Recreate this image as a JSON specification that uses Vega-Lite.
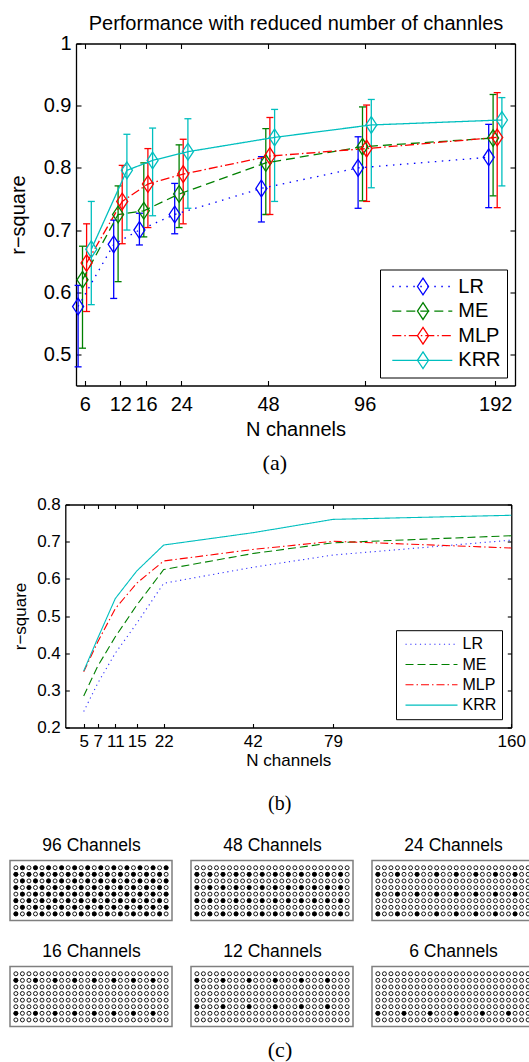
{
"$schema": "https://vega.github.io/schema/vega-lite/v6.json",
"padding": {"left": 8, "top": 12.5, "right": 0, "bottom": 0},
"background": "white",
"spacing": 21,
"config": {
  "font": "Liberation Sans",
  "view": {"stroke": null},
  "axis": {"grid": false, "domainColor": "black", "domainWidth": 1.3, "tickColor": "black", "tickWidth": 1.1, "labelColor": "black", "titleColor": "black", "labelFont": "Liberation Sans", "titleFont": "Liberation Sans", "titleFontWeight": "normal", "labelOverlap": false, "labelFlush": false, "labelBound": false},
  "title": {"font": "Liberation Sans", "fontWeight": "normal", "color": "black"},
  "legend": {"labelFont": "Liberation Sans", "labelColor": "black"}
},
"resolve": {"scale": {"color": "independent", "strokeDash": "independent", "shape": "independent", "stroke": "independent"}, "legend": {"color": "independent", "strokeDash": "independent", "shape": "independent", "stroke": "independent"}},
"datasets": {
  "grid": [
{"r":0,"c":0},{"r":0,"c":1},{"r":0,"c":2},{"r":0,"c":3},{"r":0,"c":4},{"r":0,"c":5},{"r":0,"c":6},{"r":0,"c":7},{"r":0,"c":8},{"r":0,"c":9},{"r":0,"c":10},{"r":0,"c":11},{"r":0,"c":12},{"r":0,"c":13},{"r":0,"c":14},{"r":0,"c":15},{"r":0,"c":16},{"r":0,"c":17},{"r":0,"c":18},{"r":0,"c":19},{"r":0,"c":20},{"r":0,"c":21},{"r":0,"c":22},{"r":0,"c":23},
{"r":1,"c":0},{"r":1,"c":1},{"r":1,"c":2},{"r":1,"c":3},{"r":1,"c":4},{"r":1,"c":5},{"r":1,"c":6},{"r":1,"c":7},{"r":1,"c":8},{"r":1,"c":9},{"r":1,"c":10},{"r":1,"c":11},{"r":1,"c":12},{"r":1,"c":13},{"r":1,"c":14},{"r":1,"c":15},{"r":1,"c":16},{"r":1,"c":17},{"r":1,"c":18},{"r":1,"c":19},{"r":1,"c":20},{"r":1,"c":21},{"r":1,"c":22},{"r":1,"c":23},
{"r":2,"c":0},{"r":2,"c":1},{"r":2,"c":2},{"r":2,"c":3},{"r":2,"c":4},{"r":2,"c":5},{"r":2,"c":6},{"r":2,"c":7},{"r":2,"c":8},{"r":2,"c":9},{"r":2,"c":10},{"r":2,"c":11},{"r":2,"c":12},{"r":2,"c":13},{"r":2,"c":14},{"r":2,"c":15},{"r":2,"c":16},{"r":2,"c":17},{"r":2,"c":18},{"r":2,"c":19},{"r":2,"c":20},{"r":2,"c":21},{"r":2,"c":22},{"r":2,"c":23},
{"r":3,"c":0},{"r":3,"c":1},{"r":3,"c":2},{"r":3,"c":3},{"r":3,"c":4},{"r":3,"c":5},{"r":3,"c":6},{"r":3,"c":7},{"r":3,"c":8},{"r":3,"c":9},{"r":3,"c":10},{"r":3,"c":11},{"r":3,"c":12},{"r":3,"c":13},{"r":3,"c":14},{"r":3,"c":15},{"r":3,"c":16},{"r":3,"c":17},{"r":3,"c":18},{"r":3,"c":19},{"r":3,"c":20},{"r":3,"c":21},{"r":3,"c":22},{"r":3,"c":23},
{"r":4,"c":0},{"r":4,"c":1},{"r":4,"c":2},{"r":4,"c":3},{"r":4,"c":4},{"r":4,"c":5},{"r":4,"c":6},{"r":4,"c":7},{"r":4,"c":8},{"r":4,"c":9},{"r":4,"c":10},{"r":4,"c":11},{"r":4,"c":12},{"r":4,"c":13},{"r":4,"c":14},{"r":4,"c":15},{"r":4,"c":16},{"r":4,"c":17},{"r":4,"c":18},{"r":4,"c":19},{"r":4,"c":20},{"r":4,"c":21},{"r":4,"c":22},{"r":4,"c":23},
{"r":5,"c":0},{"r":5,"c":1},{"r":5,"c":2},{"r":5,"c":3},{"r":5,"c":4},{"r":5,"c":5},{"r":5,"c":6},{"r":5,"c":7},{"r":5,"c":8},{"r":5,"c":9},{"r":5,"c":10},{"r":5,"c":11},{"r":5,"c":12},{"r":5,"c":13},{"r":5,"c":14},{"r":5,"c":15},{"r":5,"c":16},{"r":5,"c":17},{"r":5,"c":18},{"r":5,"c":19},{"r":5,"c":20},{"r":5,"c":21},{"r":5,"c":22},{"r":5,"c":23},
{"r":6,"c":0},{"r":6,"c":1},{"r":6,"c":2},{"r":6,"c":3},{"r":6,"c":4},{"r":6,"c":5},{"r":6,"c":6},{"r":6,"c":7},{"r":6,"c":8},{"r":6,"c":9},{"r":6,"c":10},{"r":6,"c":11},{"r":6,"c":12},{"r":6,"c":13},{"r":6,"c":14},{"r":6,"c":15},{"r":6,"c":16},{"r":6,"c":17},{"r":6,"c":18},{"r":6,"c":19},{"r":6,"c":20},{"r":6,"c":21},{"r":6,"c":22},{"r":6,"c":23},
{"r":7,"c":0},{"r":7,"c":1},{"r":7,"c":2},{"r":7,"c":3},{"r":7,"c":4},{"r":7,"c":5},{"r":7,"c":6},{"r":7,"c":7},{"r":7,"c":8},{"r":7,"c":9},{"r":7,"c":10},{"r":7,"c":11},{"r":7,"c":12},{"r":7,"c":13},{"r":7,"c":14},{"r":7,"c":15},{"r":7,"c":16},{"r":7,"c":17},{"r":7,"c":18},{"r":7,"c":19},{"r":7,"c":20},{"r":7,"c":21},{"r":7,"c":22},{"r":7,"c":23}
  ]
},
"vconcat": [
{
  "title": {"text": "(a)", "orient": "bottom", "anchor": "middle", "font": "Liberation Serif", "fontSize": 22, "baseline": "alphabetic", "offset": 30.5, "dx": 13},
  "resolve": {"scale": {"color": "independent", "strokeDash": "independent", "shape": "independent", "stroke": "independent"}, "legend": {"color": "independent", "strokeDash": "independent", "shape": "independent", "stroke": "independent"}},
  "vconcat": [
  {
    "width": 505, "height": 342,
    "data": {"values": [
      {"m":"LR","n":6,"r":0.577,"lo":0.48,"hi":0.611},
      {"m":"LR","n":12,"r":0.677,"lo":0.59,"hi":0.716},
      {"m":"LR","n":16,"r":0.7,"lo":0.676,"hi":0.727},
      {"m":"LR","n":24,"r":0.725,"lo":0.694,"hi":0.775},
      {"m":"LR","n":48,"r":0.767,"lo":0.713,"hi":0.818},
      {"m":"LR","n":96,"r":0.8,"lo":0.735,"hi":0.85},
      {"m":"LR","n":192,"r":0.817,"lo":0.736,"hi":0.87},
      {"m":"ME","n":6,"r":0.62,"lo":0.51,"hi":0.674},
      {"m":"ME","n":12,"r":0.725,"lo":0.617,"hi":0.771},
      {"m":"ME","n":16,"r":0.731,"lo":0.689,"hi":0.808},
      {"m":"ME","n":24,"r":0.758,"lo":0.704,"hi":0.837},
      {"m":"ME","n":48,"r":0.808,"lo":0.725,"hi":0.863},
      {"m":"ME","n":96,"r":0.834,"lo":0.747,"hi":0.898},
      {"m":"ME","n":192,"r":0.848,"lo":0.755,"hi":0.918},
      {"m":"MLP","n":6,"r":0.647,"lo":0.569,"hi":0.71},
      {"m":"MLP","n":12,"r":0.746,"lo":0.678,"hi":0.804},
      {"m":"MLP","n":16,"r":0.774,"lo":0.704,"hi":0.831},
      {"m":"MLP","n":24,"r":0.79,"lo":0.71,"hi":0.846},
      {"m":"MLP","n":48,"r":0.819,"lo":0.725,"hi":0.881},
      {"m":"MLP","n":96,"r":0.831,"lo":0.746,"hi":0.901},
      {"m":"MLP","n":192,"r":0.849,"lo":0.736,"hi":0.921},
      {"m":"KRR","n":6,"r":0.669,"lo":0.58,"hi":0.746},
      {"m":"KRR","n":12,"r":0.796,"lo":0.7,"hi":0.854},
      {"m":"KRR","n":16,"r":0.812,"lo":0.723,"hi":0.864},
      {"m":"KRR","n":24,"r":0.826,"lo":0.735,"hi":0.879},
      {"m":"KRR","n":48,"r":0.849,"lo":0.746,"hi":0.894},
      {"m":"KRR","n":96,"r":0.869,"lo":0.768,"hi":0.91},
      {"m":"KRR","n":192,"r":0.877,"lo":0.771,"hi":0.913}
    ]},
    "encoding": {
      "x": {"field": "n", "type": "quantitative", "scale": {"domain": [5,6,12,16,24,48,96,192,220], "range": [66,74.7,110.3,136,171.3,258,354.7,485.3,505], "zero": false, "nice": false}, "axis": null},
      "y": {"field": "r", "type": "quantitative", "scale": {"domain": [0.45,1], "zero": false, "nice": false}, "axis": null}
    },
    "resolve": {"axis": {"x": "independent", "y": "independent"}},
    "layer": [
      {"mark": {"type": "point", "opacity": 0},
       "encoding": {
         "x": {"field": "n", "type": "quantitative", "scale": {"domain": [5,6,12,16,24,48,96,192,220], "range": [66,74.7,110.3,136,171.3,258,354.7,485.3,505], "zero": false, "nice": false}, "axis": {"orient": "bottom", "title": "N channels", "values": [6,12,16,24,48,96,192], "tickSize": -5, "labelPadding": 13.7, "labelFontSize": 20, "titleFontSize": 20, "titlePadding": 5}},
         "y": {"field": "r", "type": "quantitative", "scale": {"domain": [0.45,1], "zero": false, "nice": false}, "axis": {"orient": "left", "offset": -66, "title": "r−square", "values": [0.5,0.6,0.7,0.8,0.9,1], "format": "~g", "tickSize": -5, "labelPadding": 10, "labelFontSize": 20, "titleFontSize": 20, "titlePadding": 15, "minExtent": 33, "maxExtent": 33}}
       }},
      {"mark": {"type": "point", "opacity": 0},
       "encoding": {
         "x": {"field": "n", "type": "quantitative", "scale": {"domain": [5,6,12,16,24,48,96,192,220], "range": [66,74.7,110.3,136,171.3,258,354.7,485.3,505], "zero": false, "nice": false}, "axis": {"orient": "top", "title": "Performance with reduced number of channles", "titleFontSize": 20, "titleBaseline": "alphabetic", "titlePadding": 14.5, "labels": false, "values": [6,12,16,24,48,96,192], "tickSize": -5, "minExtent": 0, "maxExtent": 0}},
         "y": {"field": "r", "type": "quantitative", "scale": {"domain": [0.45,1], "zero": false, "nice": false}, "axis": {"orient": "right", "title": null, "labels": false, "values": [0.5,0.6,0.7,0.8,0.9,1], "tickSize": -5, "minExtent": 0, "maxExtent": 0}}
       }},

      {"transform": [{"filter": "datum.m === 'LR'"}], "mark": {"type": "rule", "color": "#0000ff", "strokeWidth": 1.3, "xOffset": -6.6},
       "encoding": {"y": {"field": "lo", "type": "quantitative", "scale": {"domain": [0.45,1], "zero": false, "nice": false}, "axis": null}, "y2": {"field": "hi"}}},
      {"transform": [{"filter": "datum.m === 'LR'"}], "mark": {"type": "tick", "orient": "horizontal", "color": "#0000ff", "thickness": 1.3, "size": 7, "opacity": 1, "xOffset": -6.6},
       "encoding": {"y": {"field": "lo", "type": "quantitative", "scale": {"domain": [0.45,1], "zero": false, "nice": false}, "axis": null}}},
      {"transform": [{"filter": "datum.m === 'LR'"}], "mark": {"type": "tick", "orient": "horizontal", "color": "#0000ff", "thickness": 1.3, "size": 7, "opacity": 1, "xOffset": -6.6},
       "encoding": {"y": {"field": "hi", "type": "quantitative", "scale": {"domain": [0.45,1], "zero": false, "nice": false}, "axis": null}}},

      {"transform": [{"filter": "datum.m === 'ME'"}], "mark": {"type": "rule", "color": "#008000", "strokeWidth": 1.3, "xOffset": -2.2},
       "encoding": {"y": {"field": "lo", "type": "quantitative", "scale": {"domain": [0.45,1], "zero": false, "nice": false}, "axis": null}, "y2": {"field": "hi"}}},
      {"transform": [{"filter": "datum.m === 'ME'"}], "mark": {"type": "tick", "orient": "horizontal", "color": "#008000", "thickness": 1.3, "size": 7, "opacity": 1, "xOffset": -2.2},
       "encoding": {"y": {"field": "lo", "type": "quantitative", "scale": {"domain": [0.45,1], "zero": false, "nice": false}, "axis": null}}},
      {"transform": [{"filter": "datum.m === 'ME'"}], "mark": {"type": "tick", "orient": "horizontal", "color": "#008000", "thickness": 1.3, "size": 7, "opacity": 1, "xOffset": -2.2},
       "encoding": {"y": {"field": "hi", "type": "quantitative", "scale": {"domain": [0.45,1], "zero": false, "nice": false}, "axis": null}}},

      {"transform": [{"filter": "datum.m === 'MLP'"}], "mark": {"type": "rule", "color": "#ff0000", "strokeWidth": 1.3, "xOffset": 1.9},
       "encoding": {"y": {"field": "lo", "type": "quantitative", "scale": {"domain": [0.45,1], "zero": false, "nice": false}, "axis": null}, "y2": {"field": "hi"}}},
      {"transform": [{"filter": "datum.m === 'MLP'"}], "mark": {"type": "tick", "orient": "horizontal", "color": "#ff0000", "thickness": 1.3, "size": 7, "opacity": 1, "xOffset": 1.9},
       "encoding": {"y": {"field": "lo", "type": "quantitative", "scale": {"domain": [0.45,1], "zero": false, "nice": false}, "axis": null}}},
      {"transform": [{"filter": "datum.m === 'MLP'"}], "mark": {"type": "tick", "orient": "horizontal", "color": "#ff0000", "thickness": 1.3, "size": 7, "opacity": 1, "xOffset": 1.9},
       "encoding": {"y": {"field": "hi", "type": "quantitative", "scale": {"domain": [0.45,1], "zero": false, "nice": false}, "axis": null}}},

      {"transform": [{"filter": "datum.m === 'KRR'"}], "mark": {"type": "rule", "color": "#00bfbf", "strokeWidth": 1.3, "xOffset": 6.6},
       "encoding": {"y": {"field": "lo", "type": "quantitative", "scale": {"domain": [0.45,1], "zero": false, "nice": false}, "axis": null}, "y2": {"field": "hi"}}},
      {"transform": [{"filter": "datum.m === 'KRR'"}], "mark": {"type": "tick", "orient": "horizontal", "color": "#00bfbf", "thickness": 1.3, "size": 7, "opacity": 1, "xOffset": 6.6},
       "encoding": {"y": {"field": "lo", "type": "quantitative", "scale": {"domain": [0.45,1], "zero": false, "nice": false}, "axis": null}}},
      {"transform": [{"filter": "datum.m === 'KRR'"}], "mark": {"type": "tick", "orient": "horizontal", "color": "#00bfbf", "thickness": 1.3, "size": 7, "opacity": 1, "xOffset": 6.6},
       "encoding": {"y": {"field": "hi", "type": "quantitative", "scale": {"domain": [0.45,1], "zero": false, "nice": false}, "axis": null}}},

      {"transform": [{"filter": "datum.m === 'LR'"}], "mark": {"type": "line", "strokeWidth": 1.3, "xOffset": -6.6},
       "encoding": {
         "color": {"field": "m", "type": "nominal", "scale": {"domain": ["LR","ME","MLP","KRR"], "range": ["#0000ff","#008000","#ff0000","#00bfbf"]}, "legend": {"orient": "none", "direction": "vertical", "legendX": 370, "legendY": 226, "title": null, "symbolType": "stroke", "symbolSize": 3600, "symbolStrokeWidth": 1.3, "clipHeight": 22, "rowPadding": 2.6, "padding": 6, "symbolOffset": 5.3, "labelOffset": 5, "labelFontSize": 20, "strokeColor": "black", "fillColor": "white"}},
         "strokeDash": {"field": "m", "type": "nominal", "scale": {"domain": ["LR","ME","MLP","KRR"], "range": [[1.5,5.5],[9,5],[9,3,1.5,3],[1,0]]}, "legend": {"orient": "none", "direction": "vertical", "legendX": 370, "legendY": 226, "title": null, "symbolType": "stroke", "symbolSize": 3600, "symbolStrokeWidth": 1.3, "clipHeight": 22, "rowPadding": 2.6, "padding": 6, "symbolOffset": 5.3, "labelOffset": 5, "labelFontSize": 20, "strokeColor": "black", "fillColor": "white"}}
       }},
      {"transform": [{"filter": "datum.m === 'ME'"}], "mark": {"type": "line", "strokeWidth": 1.3, "xOffset": -2.2},
       "encoding": {
         "color": {"field": "m", "type": "nominal", "scale": {"domain": ["LR","ME","MLP","KRR"], "range": ["#0000ff","#008000","#ff0000","#00bfbf"]}},
         "strokeDash": {"field": "m", "type": "nominal", "scale": {"domain": ["LR","ME","MLP","KRR"], "range": [[1.5,5.5],[9,5],[9,3,1.5,3],[1,0]]}}
       }},
      {"transform": [{"filter": "datum.m === 'MLP'"}], "mark": {"type": "line", "strokeWidth": 1.3, "xOffset": 1.9},
       "encoding": {
         "color": {"field": "m", "type": "nominal", "scale": {"domain": ["LR","ME","MLP","KRR"], "range": ["#0000ff","#008000","#ff0000","#00bfbf"]}},
         "strokeDash": {"field": "m", "type": "nominal", "scale": {"domain": ["LR","ME","MLP","KRR"], "range": [[1.5,5.5],[9,5],[9,3,1.5,3],[1,0]]}}
       }},
      {"transform": [{"filter": "datum.m === 'KRR'"}], "mark": {"type": "line", "strokeWidth": 1.3, "xOffset": 6.6},
       "encoding": {
         "color": {"field": "m", "type": "nominal", "scale": {"domain": ["LR","ME","MLP","KRR"], "range": ["#0000ff","#008000","#ff0000","#00bfbf"]}},
         "strokeDash": {"field": "m", "type": "nominal", "scale": {"domain": ["LR","ME","MLP","KRR"], "range": [[1.5,5.5],[9,5],[9,3,1.5,3],[1,0]]}}
       }},

      {"transform": [{"filter": "datum.m === 'LR'"}], "mark": {"type": "point", "filled": false, "size": 280, "strokeWidth": 1.3, "opacity": 1, "xOffset": -6.6},
       "encoding": {
         "stroke": {"field": "m", "type": "nominal", "scale": {"domain": ["LR","ME","MLP","KRR","_"], "range": ["#0000ff","#008000","#ff0000","#00bfbf","#ffffff"]}, "legend": {"orient": "none", "direction": "vertical", "legendX": 370, "legendY": 226, "title": null, "values": ["LR","ME","MLP","KRR"], "symbolSize": 280, "symbolStrokeWidth": 1.3, "symbolFillColor": "transparent", "clipHeight": 22, "rowPadding": 2.6, "padding": 6, "symbolOffset": 27, "labelFontSize": 20, "labelExpr": "''"}},
         "shape": {"field": "m", "type": "nominal", "scale": {"domain": ["LR","ME","MLP","KRR","_"], "range": ["M0,-1L0.66,0L0,1L-0.66,0Z"]}, "legend": {"orient": "none", "direction": "vertical", "legendX": 370, "legendY": 226, "title": null, "values": ["LR","ME","MLP","KRR"], "symbolSize": 280, "symbolStrokeWidth": 1.3, "symbolFillColor": "transparent", "clipHeight": 22, "rowPadding": 2.6, "padding": 6, "symbolOffset": 27, "labelFontSize": 20, "labelExpr": "''"}}
       }},
      {"transform": [{"filter": "datum.m === 'ME'"}], "mark": {"type": "point", "filled": false, "size": 280, "strokeWidth": 1.3, "opacity": 1, "xOffset": -2.2},
       "encoding": {
         "stroke": {"field": "m", "type": "nominal", "scale": {"domain": ["LR","ME","MLP","KRR","_"], "range": ["#0000ff","#008000","#ff0000","#00bfbf","#ffffff"]}},
         "shape": {"field": "m", "type": "nominal", "scale": {"domain": ["LR","ME","MLP","KRR","_"], "range": ["M0,-1L0.66,0L0,1L-0.66,0Z"]}}
       }},
      {"transform": [{"filter": "datum.m === 'MLP'"}], "mark": {"type": "point", "filled": false, "size": 280, "strokeWidth": 1.3, "opacity": 1, "xOffset": 1.9},
       "encoding": {
         "stroke": {"field": "m", "type": "nominal", "scale": {"domain": ["LR","ME","MLP","KRR","_"], "range": ["#0000ff","#008000","#ff0000","#00bfbf","#ffffff"]}},
         "shape": {"field": "m", "type": "nominal", "scale": {"domain": ["LR","ME","MLP","KRR","_"], "range": ["M0,-1L0.66,0L0,1L-0.66,0Z"]}}
       }},
      {"transform": [{"filter": "datum.m === 'KRR'"}], "mark": {"type": "point", "filled": false, "size": 280, "strokeWidth": 1.3, "opacity": 1, "xOffset": 6.6},
       "encoding": {
         "stroke": {"field": "m", "type": "nominal", "scale": {"domain": ["LR","ME","MLP","KRR","_"], "range": ["#0000ff","#008000","#ff0000","#00bfbf","#ffffff"]}},
         "shape": {"field": "m", "type": "nominal", "scale": {"domain": ["LR","ME","MLP","KRR","_"], "range": ["M0,-1L0.66,0L0,1L-0.66,0Z"]}}
       }}
    ]
  }
  ]
},
{
  "title": {"text": "(b)", "orient": "bottom", "anchor": "middle", "font": "Liberation Serif", "fontSize": 20, "baseline": "alphabetic", "offset": 41, "dx": 12},
  "resolve": {"scale": {"color": "independent", "strokeDash": "independent", "shape": "independent", "stroke": "independent"}, "legend": {"color": "independent", "strokeDash": "independent", "shape": "independent", "stroke": "independent"}},
  "vconcat": [
  {
    "width": 501.3, "height": 223,
    "data": {"values": [
      {"m":"LR","n":5,"r":0.243},{"m":"LR","n":7,"r":0.319},{"m":"LR","n":11,"r":0.4},{"m":"LR","n":15,"r":0.48},{"m":"LR","n":22,"r":0.588},{"m":"LR","n":42,"r":0.631},{"m":"LR","n":79,"r":0.664},{"m":"LR","n":160,"r":0.704},
      {"m":"ME","n":5,"r":0.285},{"m":"ME","n":7,"r":0.365},{"m":"ME","n":11,"r":0.444},{"m":"ME","n":15,"r":0.529},{"m":"ME","n":22,"r":0.625},{"m":"ME","n":42,"r":0.668},{"m":"ME","n":79,"r":0.697},{"m":"ME","n":160,"r":0.716},
      {"m":"MLP","n":5,"r":0.35},{"m":"MLP","n":7,"r":0.43},{"m":"MLP","n":11,"r":0.52},{"m":"MLP","n":15,"r":0.588},{"m":"MLP","n":22,"r":0.648},{"m":"MLP","n":42,"r":0.679},{"m":"MLP","n":79,"r":0.701},{"m":"MLP","n":160,"r":0.683},
      {"m":"KRR","n":5,"r":0.352},{"m":"KRR","n":7,"r":0.44},{"m":"KRR","n":11,"r":0.547},{"m":"KRR","n":15,"r":0.621},{"m":"KRR","n":22,"r":0.691},{"m":"KRR","n":42,"r":0.724},{"m":"KRR","n":79,"r":0.76},{"m":"KRR","n":160,"r":0.771}
    ]},
    "resolve": {"axis": {"x": "independent", "y": "independent"}},
    "layer": [
      {"mark": {"type": "point", "opacity": 0},
       "encoding": {
         "x": {"field": "n", "type": "quantitative", "scale": {"domain": [3,5,7,11,15,22,42,79,160], "range": [55.3,73.7,87.7,105.3,126.7,153.7,242.7,323,501.3], "zero": false, "nice": false}, "axis": {"orient": "top", "title": null, "labels": false, "values": [5,7,11,15,22,42,79,160], "tickSize": -4, "minExtent": 0, "maxExtent": 0}},
         "y": {"field": "r", "type": "quantitative", "scale": {"domain": [0.2,0.8], "zero": false, "nice": false}, "axis": {"orient": "right", "title": null, "labels": false, "values": [0.2,0.3,0.4,0.5,0.6,0.7,0.8], "tickSize": -4, "minExtent": 0, "maxExtent": 0}}
       }},
      {"mark": {"type": "line", "strokeWidth": 1.1},
       "encoding": {
         "x": {"field": "n", "type": "quantitative", "scale": {"domain": [3,5,7,11,15,22,42,79,160], "range": [55.3,73.7,87.7,105.3,126.7,153.7,242.7,323,501.3], "zero": false, "nice": false}, "axis": {"orient": "bottom", "title": "N channels", "values": [5,7,11,15,22,42,79,160], "tickSize": -4, "labelPadding": 10.4, "labelFontSize": 17, "titleFontSize": 17, "titlePadding": 3}},
         "y": {"field": "r", "type": "quantitative", "scale": {"domain": [0.2,0.8], "zero": false, "nice": false}, "axis": {"orient": "left", "offset": -55.3, "title": "r−square", "values": [0.2,0.3,0.4,0.5,0.6,0.7,0.8], "format": ".1f", "tickSize": -4, "labelPadding": 9, "labelFontSize": 17, "titleFontSize": 17, "titlePadding": 6.6, "minExtent": 29, "maxExtent": 29}},
         "color": {"field": "m", "type": "nominal", "scale": {"domain": ["LR","ME","MLP","KRR"], "range": ["#3030ff","#008000","#ff0000","#00bfbf"]}, "legend": {"orient": "none", "direction": "vertical", "legendX": 386, "legendY": 125.7, "title": null, "symbolType": "stroke", "symbolSize": 2704, "symbolStrokeWidth": 1.1, "clipHeight": 18, "rowPadding": 2.3, "padding": 5, "symbolOffset": 3.5, "labelOffset": 4, "labelFontSize": 16, "strokeColor": "black", "fillColor": "white"}},
         "strokeDash": {"field": "m", "type": "nominal", "scale": {"domain": ["LR","ME","MLP","KRR"], "range": [[1.2,3.6],[8,4],[8,3,1.5,3],[1,0]]}, "legend": {"orient": "none", "direction": "vertical", "legendX": 386, "legendY": 125.7, "title": null, "symbolType": "stroke", "symbolSize": 2704, "symbolStrokeWidth": 1.1, "clipHeight": 18, "rowPadding": 2.3, "padding": 5, "symbolOffset": 3.5, "labelOffset": 4, "labelFontSize": 16, "strokeColor": "black", "fillColor": "white"}}
       }}
    ]
  }
  ]
},
{
  "title": {"text": "(c)", "orient": "bottom", "anchor": "middle", "font": "Liberation Serif", "fontSize": 22, "baseline": "alphabetic", "offset": 30, "dx": 8},
  "spacing": 20,
  "vconcat": [
  {"hconcat": [
    {"width": 162, "height": 60, "view": {"stroke": "#7f7f7f", "strokeWidth": 1.5},
     "encoding": {"x": {"field": "c", "type": "quantitative", "scale": {"domain": [-0.9,23.9], "zero": false, "nice": false}, "axis": {"orient": "top", "title": "96 Channels", "titleFontSize": 17.5, "titleBaseline": "alphabetic", "titlePadding": 9.8, "labels": false, "ticks": false, "domain": false, "minExtent": 0, "maxExtent": 0}}, "y": {"field": "r", "type": "quantitative", "scale": {"domain": [-1.1,8], "zero": false, "nice": false, "reverse": true}, "axis": null}},
     "layer": [
       {"data": {"name": "grid"}, "mark": {"type": "point", "shape": "circle", "filled": false, "color": "black", "size": 16, "strokeWidth": 0.9, "opacity": 1}},
       {"data": {"values": "r,c\n0,1\n0,3\n0,5\n0,7\n0,9\n0,11\n0,13\n0,15\n0,17\n0,19\n0,21\n0,23\n1,0\n1,2\n1,4\n1,6\n1,8\n1,10\n1,12\n1,14\n1,16\n1,18\n1,20\n1,22\n2,1\n2,3\n2,5\n2,7\n2,9\n2,11\n2,13\n2,15\n2,17\n2,19\n2,21\n2,23\n3,0\n3,2\n3,4\n3,6\n3,8\n3,10\n3,12\n3,14\n3,16\n3,18\n3,20\n3,22\n4,1\n4,3\n4,5\n4,7\n4,9\n4,11\n4,13\n4,15\n4,17\n4,19\n4,21\n4,23\n5,0\n5,2\n5,4\n5,6\n5,8\n5,10\n5,12\n5,14\n5,16\n5,18\n5,20\n5,22\n6,1\n6,3\n6,5\n6,7\n6,9\n6,11\n6,13\n6,15\n6,17\n6,19\n6,21\n6,23\n7,0\n7,2\n7,4\n7,6\n7,8\n7,10\n7,12\n7,14\n7,16\n7,18\n7,20\n7,22", "format": {"type": "csv", "parse": {"r": "number", "c": "number"}}},
        "mark": {"type": "circle", "color": "black", "size": 22, "opacity": 1}}
     ]},
    {"width": 162, "height": 60, "view": {"stroke": "#7f7f7f", "strokeWidth": 1.5},
     "encoding": {"x": {"field": "c", "type": "quantitative", "scale": {"domain": [-0.9,23.9], "zero": false, "nice": false}, "axis": {"orient": "top", "title": "48 Channels", "titleFontSize": 17.5, "titleBaseline": "alphabetic", "titlePadding": 9.8, "labels": false, "ticks": false, "domain": false, "minExtent": 0, "maxExtent": 0}}, "y": {"field": "r", "type": "quantitative", "scale": {"domain": [-1.1,8], "zero": false, "nice": false, "reverse": true}, "axis": null}},
     "layer": [
       {"data": {"name": "grid"}, "mark": {"type": "point", "shape": "circle", "filled": false, "color": "black", "size": 16, "strokeWidth": 0.9, "opacity": 1}},
       {"data": {"values": "r,c\n1,0\n1,2\n1,4\n1,6\n1,8\n1,10\n1,12\n1,14\n1,16\n1,18\n1,20\n1,22\n3,0\n3,2\n3,4\n3,6\n3,8\n3,10\n3,12\n3,14\n3,16\n3,18\n3,20\n3,22\n5,0\n5,2\n5,4\n5,6\n5,8\n5,10\n5,12\n5,14\n5,16\n5,18\n5,20\n5,22\n7,0\n7,2\n7,4\n7,6\n7,8\n7,10\n7,12\n7,14\n7,16\n7,18\n7,20\n7,22", "format": {"type": "csv", "parse": {"r": "number", "c": "number"}}},
        "mark": {"type": "circle", "color": "black", "size": 22, "opacity": 1}}
     ]},
    {"width": 162, "height": 60, "view": {"stroke": "#7f7f7f", "strokeWidth": 1.5},
     "encoding": {"x": {"field": "c", "type": "quantitative", "scale": {"domain": [-0.9,23.9], "zero": false, "nice": false}, "axis": {"orient": "top", "title": "24 Channels", "titleFontSize": 17.5, "titleBaseline": "alphabetic", "titlePadding": 9.8, "labels": false, "ticks": false, "domain": false, "minExtent": 0, "maxExtent": 0}}, "y": {"field": "r", "type": "quantitative", "scale": {"domain": [-1.1,8], "zero": false, "nice": false, "reverse": true}, "axis": null}},
     "layer": [
       {"data": {"name": "grid"}, "mark": {"type": "point", "shape": "circle", "filled": false, "color": "black", "size": 16, "strokeWidth": 0.9, "opacity": 1}},
       {"data": {"values": "r,c\n1,0\n1,3\n1,6\n1,9\n1,12\n1,15\n1,18\n1,21\n4,0\n4,3\n4,6\n4,9\n4,12\n4,15\n4,18\n4,21\n7,0\n7,3\n7,6\n7,9\n7,12\n7,15\n7,18\n7,21", "format": {"type": "csv", "parse": {"r": "number", "c": "number"}}},
        "mark": {"type": "circle", "color": "black", "size": 22, "opacity": 1}}
     ]}
  ], "spacing": 17},
  {"hconcat": [
    {"width": 162, "height": 60, "view": {"stroke": "#7f7f7f", "strokeWidth": 1.5},
     "encoding": {"x": {"field": "c", "type": "quantitative", "scale": {"domain": [-0.9,23.9], "zero": false, "nice": false}, "axis": {"orient": "top", "title": "16 Channels", "titleFontSize": 17.5, "titleBaseline": "alphabetic", "titlePadding": 10, "labels": false, "ticks": false, "domain": false, "minExtent": 0, "maxExtent": 0}}, "y": {"field": "r", "type": "quantitative", "scale": {"domain": [-1.1,8], "zero": false, "nice": false, "reverse": true}, "axis": null}},
     "layer": [
       {"data": {"name": "grid"}, "mark": {"type": "point", "shape": "circle", "filled": false, "color": "black", "size": 16, "strokeWidth": 0.9, "opacity": 1}},
       {"data": {"values": "r,c\n1,0\n1,3\n1,6\n1,9\n1,12\n1,15\n1,18\n1,21\n6,0\n6,3\n6,6\n6,9\n6,12\n6,15\n6,18\n6,21", "format": {"type": "csv", "parse": {"r": "number", "c": "number"}}},
        "mark": {"type": "circle", "color": "black", "size": 22, "opacity": 1}}
     ]},
    {"width": 162, "height": 60, "view": {"stroke": "#7f7f7f", "strokeWidth": 1.5},
     "encoding": {"x": {"field": "c", "type": "quantitative", "scale": {"domain": [-0.9,23.9], "zero": false, "nice": false}, "axis": {"orient": "top", "title": "12 Channels", "titleFontSize": 17.5, "titleBaseline": "alphabetic", "titlePadding": 10, "labels": false, "ticks": false, "domain": false, "minExtent": 0, "maxExtent": 0}}, "y": {"field": "r", "type": "quantitative", "scale": {"domain": [-1.1,8], "zero": false, "nice": false, "reverse": true}, "axis": null}},
     "layer": [
       {"data": {"name": "grid"}, "mark": {"type": "point", "shape": "circle", "filled": false, "color": "black", "size": 16, "strokeWidth": 0.9, "opacity": 1}},
       {"data": {"values": "r,c\n1,0\n1,4\n1,8\n1,12\n1,16\n1,20\n5,0\n5,4\n5,8\n5,12\n5,16\n5,20", "format": {"type": "csv", "parse": {"r": "number", "c": "number"}}},
        "mark": {"type": "circle", "color": "black", "size": 22, "opacity": 1}}
     ]},
    {"width": 162, "height": 60, "view": {"stroke": "#7f7f7f", "strokeWidth": 1.5},
     "encoding": {"x": {"field": "c", "type": "quantitative", "scale": {"domain": [-0.9,23.9], "zero": false, "nice": false}, "axis": {"orient": "top", "title": "6 Channels", "titleFontSize": 17.5, "titleBaseline": "alphabetic", "titlePadding": 10, "labels": false, "ticks": false, "domain": false, "minExtent": 0, "maxExtent": 0}}, "y": {"field": "r", "type": "quantitative", "scale": {"domain": [-1.1,8], "zero": false, "nice": false, "reverse": true}, "axis": null}},
     "layer": [
       {"data": {"name": "grid"}, "mark": {"type": "point", "shape": "circle", "filled": false, "color": "black", "size": 16, "strokeWidth": 0.9, "opacity": 1}},
       {"data": {"values": "r,c\n6,0\n6,4\n6,8\n6,12\n6,16\n6,20", "format": {"type": "csv", "parse": {"r": "number", "c": "number"}}},
        "mark": {"type": "circle", "color": "black", "size": 22, "opacity": 1}}
     ]}
  ], "spacing": 17}
  ]
}
]
}
